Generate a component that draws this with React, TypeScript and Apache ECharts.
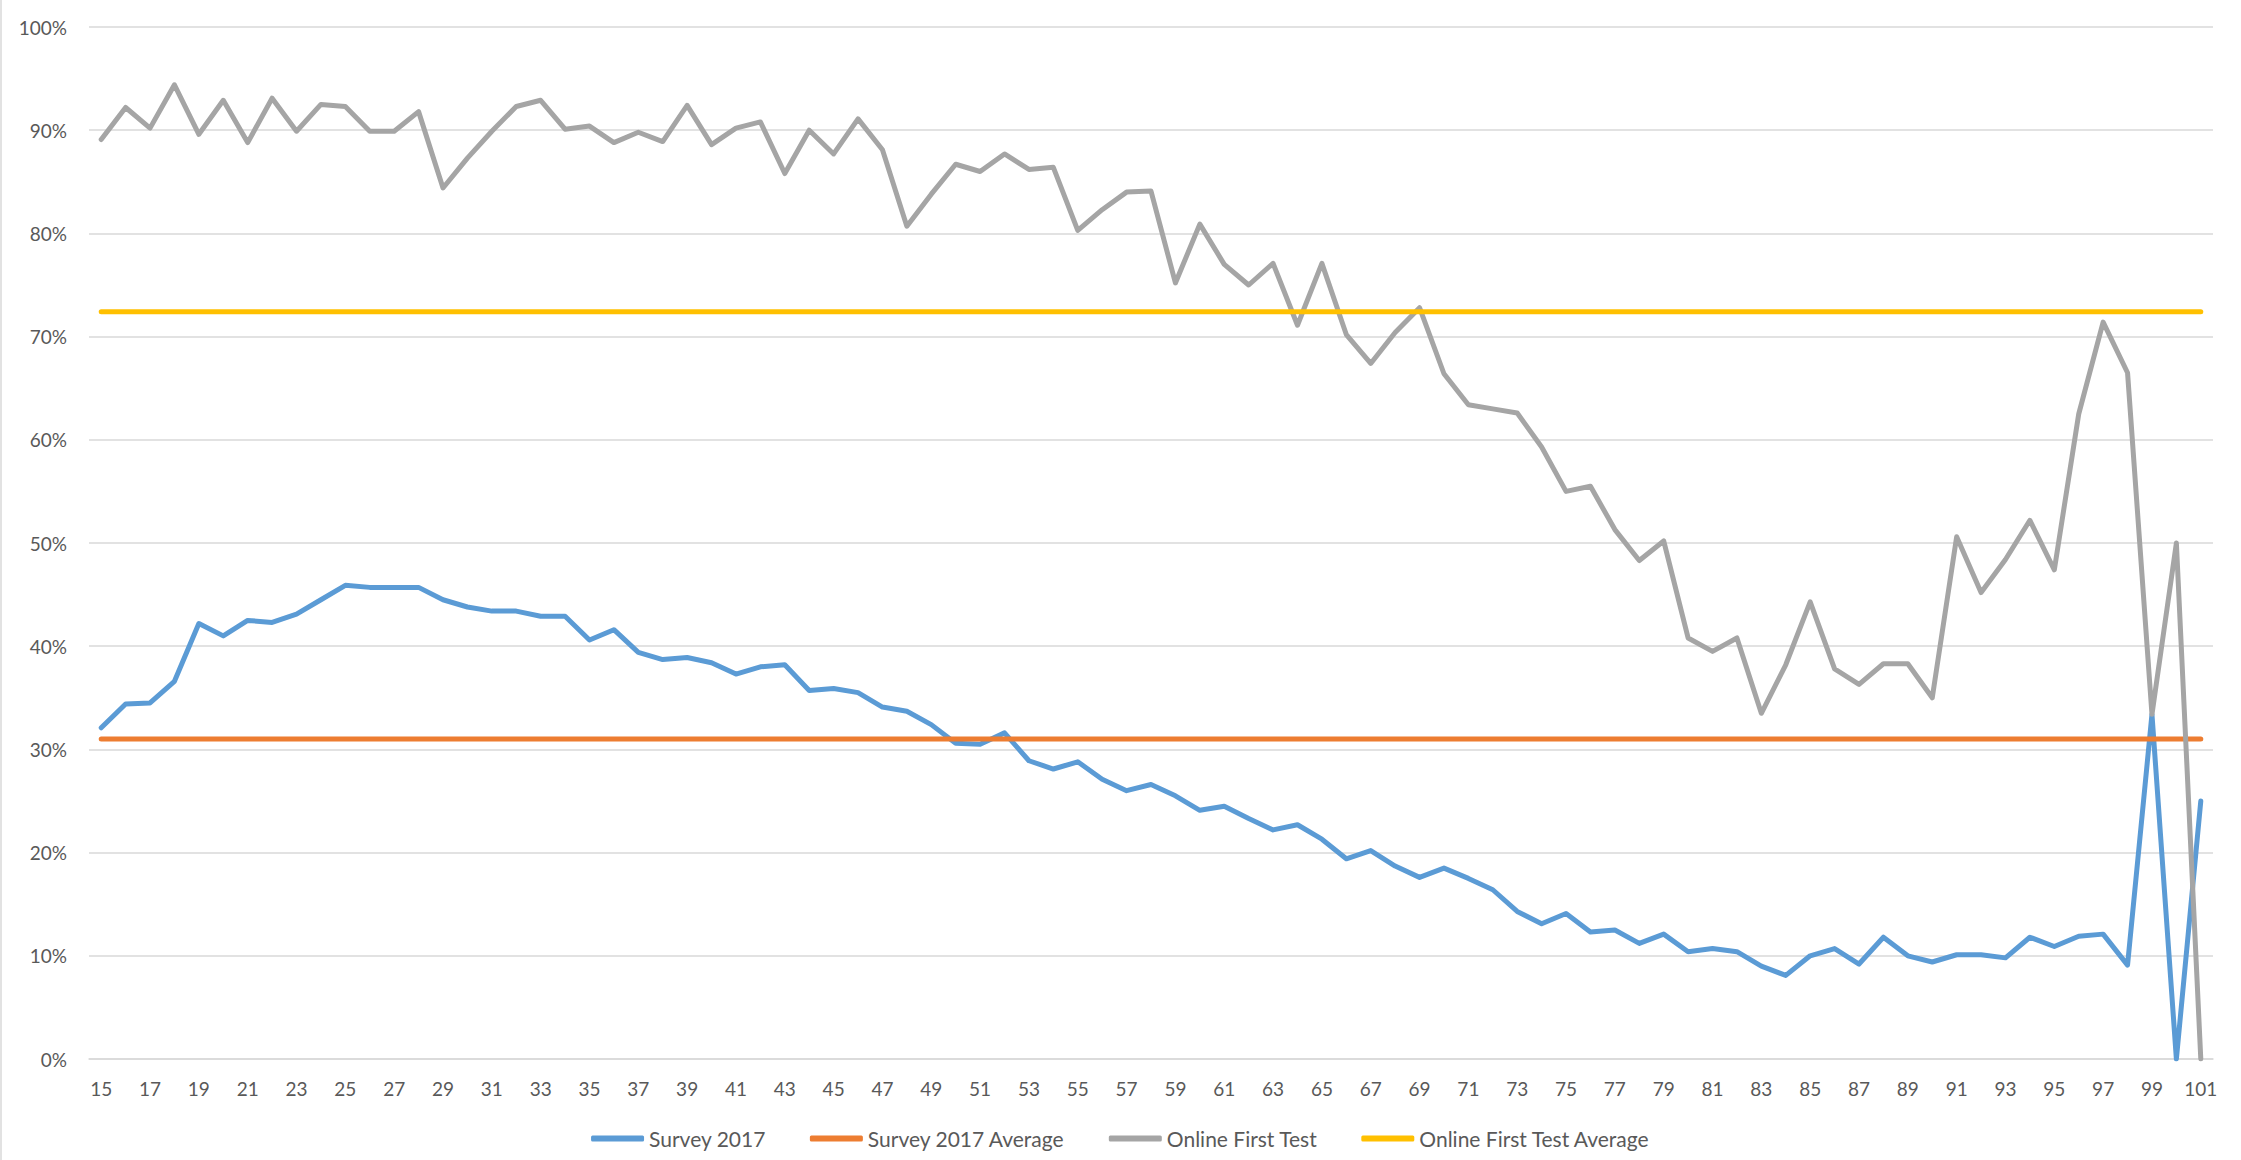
import React, { useEffect, useRef } from "react";
import * as echarts from "echarts";

const ages: string[] = [
  "15","16","17","18","19","20","21","22","23","24","25","26","27","28","29","30",
  "31","32","33","34","35","36","37","38","39","40","41","42","43","44","45","46",
  "47","48","49","50","51","52","53","54","55","56","57","58","59","60","61","62",
  "63","64","65","66","67","68","69","70","71","72","73","74","75","76","77","78",
  "79","80","81","82","83","84","85","86","87","88","89","90","91","92","93","94",
  "95","96","97","98","99","100","101",
];

// Survey 2017 (%), ages 15..101
const survey2017: number[] = [
  32.1, 34.4, 34.5, 36.6, 42.2, 41.0, 42.5, 42.3, 43.1, 44.5, // 15-24
  45.9, 45.7, 45.7, 45.7, 44.5, 43.8, 43.4, 43.4, 42.9, 42.9, // 25-34
  40.6, 41.6, 39.4, 38.7, 38.9, 38.4, 37.3, 38.0, 38.2, 35.7, // 35-44
  35.9, 35.5, 34.1, 33.7, 32.4, 30.6, 30.5, 31.6, 28.9, 28.1, // 45-54
  28.8, 27.1, 26.0, 26.6, 25.5, 24.1, 24.5, 23.3, 22.2, 22.7, // 55-64
  21.3, 19.4, 20.2, 18.7, 17.6, 18.5, 17.5, 16.4, 14.3, 13.1, // 65-74
  14.1, 12.3, 12.5, 11.2, 12.1, 10.4, 10.7, 10.4, 9.0, 8.1,   // 75-84
  10.0, 10.7, 9.2, 11.8, 10.0, 9.4, 10.1, 10.1, 9.8, 11.8,    // 85-94
  10.9, 11.9, 12.1, 9.1, 33.4, 0, 25.0,                       // 95-101
];

// Online First Test (%), ages 15..101
const onlineFirstTest: number[] = [
  89.1, 92.2, 90.2, 94.4, 89.6, 92.9, 88.8, 93.1, 89.9, 92.5, // 15-24
  92.3, 89.9, 89.9, 91.8, 84.4, 87.3, 89.9, 92.3, 92.9, 90.1, // 25-34
  90.4, 88.8, 89.8, 88.9, 92.4, 88.6, 90.2, 90.8, 85.8, 90.0, // 35-44
  87.7, 91.1, 88.1, 80.7, 83.8, 86.7, 86.0, 87.7, 86.2, 86.4, // 45-54
  80.3, 82.3, 84.0, 84.1, 75.2, 80.9, 77.0, 75.0, 77.1, 71.1, // 55-64
  77.1, 70.2, 67.4, 70.4, 72.8, 66.4, 63.4, 63.0, 62.6, 59.3, // 65-74
  55.0, 55.5, 51.3, 48.3, 50.2, 40.8, 39.5, 40.8, 33.5, 38.2, // 75-84
  44.3, 37.8, 36.3, 38.3, 38.3, 35.0, 50.6, 45.2, 48.4, 52.2, // 85-94
  47.4, 62.5, 71.4, 66.5, 33.4, 50.0, 0,                      // 95-101
];

const survey2017Average = 31.0;
const onlineFirstTestAverage = 72.4;

const seriesNames = [
  "Survey 2017",
  "Survey 2017 Average",
  "Online First Test",
  "Online First Test Average",
];
const seriesColors = ["#5B9BD5", "#ED7D31", "#A5A5A5", "#FFC000"];

const FONT = "Lato, 'Liberation Sans', sans-serif";
const LABEL_COLOR = "#595959";
const GRID_COLOR = "#D9D9D9";

export default function App() {
  const ref = useRef<HTMLDivElement>(null);

  useEffect(() => {
    if (!ref.current) return;
    const chart = echarts.init(ref.current, null, { renderer: "svg" });

    const seriesData = [
      survey2017,
      ages.map(() => survey2017Average),
      onlineFirstTest,
      ages.map(() => onlineFirstTestAverage),
    ];

    chart.setOption({
      animation: false,
      backgroundColor: "#ffffff",
      textStyle: { fontFamily: FONT },
      grid: { left: 89, right: 28, top: 27, height: 1032, containLabel: false },
      xAxis: {
        type: "category",
        data: ages,
        boundaryGap: true,
        axisTick: { show: false },
        axisLine: { show: true, lineStyle: { color: GRID_COLOR, width: 1.5 } },
        axisLabel: {
          interval: 1,
          color: LABEL_COLOR,
          fontSize: 19,
          fontFamily: FONT,
          margin: 20,
        },
        splitLine: { show: false },
      },
      yAxis: {
        type: "value",
        min: 0,
        max: 100,
        interval: 10,
        axisLine: { show: false },
        axisTick: { show: false },
        axisLabel: {
          formatter: "{value}%",
          color: LABEL_COLOR,
          fontSize: 19,
          fontFamily: FONT,
          margin: 22,
        },
        splitLine: { show: true, lineStyle: { color: GRID_COLOR, width: 1.5 } },
      },
      legend: {
        bottom: 6,
        left: "center",
        icon: "roundRect",
        itemWidth: 53,
        itemHeight: 6,
        itemGap: 44,
        textStyle: { color: LABEL_COLOR, fontSize: 21, fontFamily: FONT },
        data: seriesNames,
      },
      graphic: [
        {
          type: "line",
          shape: { x1: 1, y1: 0, x2: 1, y2: 1160 },
          style: { stroke: "#D9D9D9", lineWidth: 1.5 },
        },
      ],
      series: seriesNames.map((name, i) => ({
        name,
        type: "line",
        data: seriesData[i],
        symbol: "none",
        showSymbol: false,
        color: seriesColors[i],
        lineStyle: { color: seriesColors[i], width: 5, cap: "round", join: "round" },
        itemStyle: { color: seriesColors[i] },
      })),
    });

    return () => chart.dispose();
  }, []);

  return (
    <div
      ref={ref}
      style={{
        position: "absolute",
        left: 0,
        top: 0,
        width: 2241,
        height: 1160,
        background: "#ffffff",
      }}
    />
  );
}
